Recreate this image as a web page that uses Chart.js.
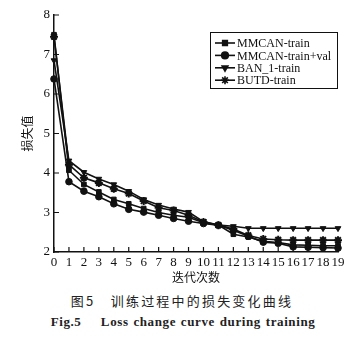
<!DOCTYPE html>
<html>
<head>
<meta charset="utf-8">
<script src="https://cdn.jsdelivr.net/npm/chart.js@4"></script>
<style>
  body { margin: 0; background: #fff; width: 356px; height: 348px; overflow: hidden; }
  #wrap { position: absolute; left: 0; top: 0; width: 356px; height: 285px; }
  .cap { position: absolute; left: 0; width: 356px; text-align: center; color: #222; }
  #capZh { top: 291px; left: 4px; font: 13px "Noto Sans CJK SC"; letter-spacing: 2.2px; }
  #capEn { top: 314px; left: 5px; font: bold 13px "Liberation Serif"; letter-spacing: 0.6px; word-spacing: 1px; }
</style>
</head>
<body>
<div id="wrap"><canvas id="lossChart"></canvas></div>
<div class="cap" id="capZh">图5&nbsp;&nbsp;&nbsp;训练过程中的损失变化曲线</div>
<div class="cap" id="capEn">Fig.5&nbsp;&nbsp;&nbsp;&nbsp;Loss change curve during training</div>
<script>
// 损失曲线数据
const epochs = ['0','1','2','3','4','5','6','7','8','9','10','11','12','13','14','15','16','17','18','19'];
const mmcanTrain    = [7.50, 4.07, 3.71, 3.52, 3.33, 3.22, 3.10, 3.00, 2.93, 2.88, 2.74, 2.68, 2.45, 2.38, 2.27, 2.24, 2.18, 2.17, 2.16, 2.16];
const mmcanTrainVal = [6.38, 3.78, 3.54, 3.40, 3.22, 3.08, 3.01, 2.93, 2.85, 2.78, 2.72, 2.68, 2.55, 2.40, 2.25, 2.22, 2.13, 2.12, 2.11, 2.10];
const ban1Train     = [6.85, 4.31, 4.02, 3.85, 3.71, 3.54, 3.33, 3.19, 3.09, 3.01, 2.77, 2.68, 2.65, 2.60, 2.60, 2.60, 2.60, 2.60, 2.60, 2.60];
const butdTrain     = [7.45, 4.21, 3.88, 3.75, 3.60, 3.48, 3.29, 3.12, 3.05, 2.93, 2.76, 2.68, 2.58, 2.42, 2.33, 2.31, 2.30, 2.30, 2.30, 2.30];
const yTicks = [2, 3, 4, 5, 6, 7, 8];

const serif = "Liberation Serif";

function serie(label, data, style, rot) {
  return {
    label: label,
    data: data,
    borderColor: '#111',
    backgroundColor: '#111',
    borderWidth: 1.6,
    pointStyle: style,
    pointRotation: rot || 0,
    pointRadius: style === 'star' ? 4 : 3.3,
    pointBorderWidth: style === 'star' ? 2 : 1,
    tension: 0
  };
}

// ticks hacia dentro + leyenda con recuadro
const extras = {
  id: 'extras',
  afterDraw(chart) {
    const c = chart.ctx;
    const xs = chart.scales.x, ys = chart.scales.y;
    c.save();
    c.strokeStyle = '#111';
    c.lineWidth = 1.2;
    c.beginPath();
    yTicks.forEach(v => {
      const py = ys.getPixelForValue(v);
      c.moveTo(xs.left, py); c.lineTo(xs.left + 5, py);
    });
    epochs.forEach((e, i) => {
      const px = xs.getPixelForValue(i);
      c.moveTo(px, ys.bottom); c.lineTo(px, ys.bottom - 5);
    });
    c.stroke();

    // leyenda
    const bx = 210, by = 32, bw = 127, bh = 56;
    c.lineWidth = 1;
    c.strokeRect(bx + 0.5, by + 0.5, bw, bh);
    c.font = '12px ' + serif;
    c.fillStyle = '#111';
    c.textBaseline = 'middle';
    chart.data.datasets.forEach((ds, i) => {
      const y = by + 11 + i * 12.4;
      c.lineWidth = 1.6;
      c.beginPath();
      c.moveTo(bx + 5, y); c.lineTo(bx + 25, y);
      c.stroke();
      Chart.helpers.drawPoint(c, {
        pointStyle: ds.pointStyle,
        rotation: ds.pointRotation,
        radius: ds.pointRadius,
        borderWidth: ds.pointBorderWidth
      }, bx + 15, y);
      c.fillStyle = '#111';
      c.fillText(ds.label, bx + 27, y + 1);
    });
    c.restore();
  }
};

new Chart(document.getElementById('lossChart'), {
  type: 'line',
  data: {
    labels: epochs,
    datasets: [
      serie('MMCAN-train', mmcanTrain, 'rect'),
      serie('MMCAN-train+val', mmcanTrainVal, 'circle'),
      serie('BAN_1-train', ban1Train, 'triangle', 180),
      serie('BUTD-train', butdTrain, 'star')
    ]
  },
  plugins: [extras],
  options: {
    responsive: true,
    maintainAspectRatio: false,
    animation: false,
    layout: { padding: { top: 15, right: 18, left: 20, bottom: 0 } },
    plugins: { legend: { display: false }, tooltip: { enabled: false } },
    scales: {
      x: {
        offset: false,
        grid: { display: false, drawTicks: false },
        border: { color: '#111', width: 1.5 },
        ticks: { color: '#111', padding: 3, maxRotation: 0, autoSkip: false, font: { family: serif, size: 13 } },
        title: { display: true, text: '迭代次数', color: '#111', padding: { top: 2, bottom: 0 }, font: { family: 'Noto Sans CJK SC', size: 12 } },
        afterFit: s => { s.height = 33; }
      },
      y: {
        min: 2,
        max: 8,
        afterBuildTicks: s => { s.ticks = yTicks.map(v => ({ value: v })); },
        grid: { display: false, drawTicks: false },
        border: { color: '#111', width: 1.5 },
        ticks: { color: '#111', padding: 4, font: { family: serif, size: 13 } },
        title: { display: true, text: '损失值', color: '#111', padding: 0, font: { family: 'Noto Sans CJK SC', size: 12 } },
        afterFit: s => { s.width = 34; }
      }
    }
  }
});
</script>
</body>
</html>
